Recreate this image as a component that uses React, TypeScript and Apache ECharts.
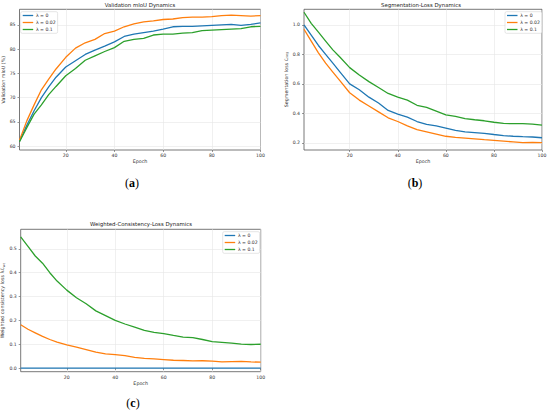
import React, { useEffect, useRef } from "react";
import * as echarts from "echarts";

const EPOCHS = [1, 4, 7, 10, 13, 16, 20, 24, 28, 32, 36, 40, 44, 48, 52, 56, 60, 64, 68, 72, 76, 80, 84, 88, 92, 96, 100];
const SERIES_NAMES = ["λ = 0", "λ = 0.02", "λ = 0.1"];
const COLORS = ["#1f77b4", "#ff7f0e", "#2ca02c"];

// (a) Validation mIoU (%)
const MIOU_L0 = [61.0, 64.3, 67.3, 70.0, 72.2, 74.2, 76.3, 77.6, 78.9, 79.8, 80.6, 81.5, 82.6, 83.1, 83.4, 83.7, 84.1, 84.6, 84.7, 84.7, 84.8, 84.9, 85.0, 85.1, 84.9, 85.1, 85.4];
const MIOU_L002 = [61.2, 65.2, 68.5, 71.6, 73.8, 75.9, 78.3, 80.2, 81.3, 82.0, 83.2, 83.7, 84.6, 85.2, 85.6, 85.8, 86.1, 86.2, 86.5, 86.6, 86.6, 86.7, 86.9, 87.0, 86.9, 86.8, 86.9];
const MIOU_L01 = [60.9, 63.8, 66.6, 68.5, 70.6, 72.3, 74.5, 76.0, 77.7, 78.6, 79.5, 80.3, 81.6, 82.0, 82.2, 82.9, 83.1, 83.1, 83.3, 83.4, 83.8, 83.9, 84.0, 84.1, 84.2, 84.6, 84.7];

// (b) Segmentation loss
const SEG_L0 = [1.0, 0.93, 0.86, 0.8, 0.74, 0.68, 0.6, 0.56, 0.51, 0.47, 0.42, 0.395, 0.375, 0.345, 0.325, 0.315, 0.3, 0.285, 0.275, 0.27, 0.265, 0.257, 0.25, 0.245, 0.242, 0.24, 0.235];
const SEG_L002 = [0.97, 0.89, 0.81, 0.74, 0.68, 0.62, 0.54, 0.49, 0.45, 0.41, 0.37, 0.345, 0.315, 0.29, 0.275, 0.26, 0.245, 0.238, 0.233, 0.228, 0.222, 0.217, 0.212, 0.207, 0.202, 0.203, 0.202];
const SEG_L01 = [1.085, 1.01, 0.95, 0.89, 0.83, 0.78, 0.71, 0.66, 0.615, 0.575, 0.535, 0.51, 0.49, 0.455, 0.44, 0.415, 0.39, 0.38, 0.365, 0.357, 0.35, 0.34, 0.332, 0.33, 0.33, 0.327, 0.32];

// (c) Weighted consistency loss
const WC_L0 = [0, 0, 0, 0, 0, 0, 0, 0, 0, 0, 0, 0, 0, 0, 0, 0, 0, 0, 0, 0, 0, 0, 0, 0, 0, 0, 0];
const WC_L002 = [0.182, 0.163, 0.148, 0.133, 0.12, 0.109, 0.097, 0.088, 0.078, 0.067, 0.06, 0.057, 0.052, 0.045, 0.041, 0.039, 0.036, 0.033, 0.032, 0.03, 0.031, 0.029, 0.026, 0.027, 0.028, 0.026, 0.025];
const WC_L01 = [0.55, 0.51, 0.47, 0.44, 0.4, 0.365, 0.327, 0.295, 0.27, 0.24, 0.22, 0.2, 0.185, 0.172, 0.158, 0.15, 0.145, 0.137, 0.13, 0.128, 0.12, 0.111, 0.108, 0.105, 0.101, 0.099, 0.1];

const X_TICKS = [20, 40, 60, 80, 100];
const MIOU_TICKS = [60, 65, 70, 75, 80, 85];
const SEG_TICKS = [0.2, 0.4, 0.6, 0.8, 1.0];
const WC_TICKS = [0, 0.1, 0.2, 0.3, 0.4, 0.5];

const TITLES = ["Validation mIoU Dynamics", "Segmentation-Loss Dynamics", "Weighted-Consistency-Loss Dynamics"];
const SUB_LETTERS = ["a", "b", "c"];

const FONT = "DejaVu Sans";
const SERIF = "Liberation Serif";
const TICK_FS = 4.6;

function pairs(vals: number[]) {
  return EPOCHS.map((e, i) => [e, vals[i]]);
}

function xAxis(gridIndex: number, nameGap: number) {
  return {
    type: "value",
    gridIndex,
    min: 1,
    max: 100,
    name: "Epoch",
    nameLocation: "middle",
    nameGap,
    nameTextStyle: { fontFamily: FONT, fontSize: 4.8, color: "#333" },
    axisLine: { show: false },
    axisTick: { show: true, length: 2, lineStyle: { color: "#555", width: 0.6 }, customValues: X_TICKS },
    axisLabel: { customValues: X_TICKS, fontFamily: FONT, fontSize: TICK_FS, color: "#333", margin: 3 },
    splitLine: { show: true, lineStyle: { color: "#e6e6e6", width: 0.6 } },
  };
}

function yAxis(gridIndex: number, min: number, max: number, ticks: number[], dec: number, name: string, rich: any) {
  return {
    type: "value",
    gridIndex,
    min,
    max,
    name,
    nameLocation: "middle",
    nameRotate: 90,
    nameGap: 11.5,
    nameTextStyle: { fontFamily: FONT, fontSize: 4.8, color: "#333", rich },
    axisLine: { show: false },
    axisTick: { show: true, length: 2, lineStyle: { color: "#555", width: 0.6 }, customValues: ticks },
    axisLabel: {
      customValues: ticks,
      fontFamily: FONT,
      fontSize: TICK_FS,
      color: "#333",
      margin: 4,
      formatter: (v: number) => v.toFixed(dec),
    },
    splitLine: { show: true, lineStyle: { color: "#e6e6e6", width: 0.6 } },
  };
}

function legend(pos: any) {
  return {
    ...pos,
    orient: "vertical",
    data: SERIES_NAMES,
    icon: "rect",
    itemWidth: 10.5,
    itemHeight: 1.3,
    itemGap: 1,
    padding: [0.8, 2, 0.8, 2],
    backgroundColor: "rgba(255,255,255,0.85)",
    borderColor: "#cccccc",
    borderWidth: 0.5,
    borderRadius: 1.5,
    textStyle: { fontFamily: FONT, fontSize: 4.6, lineHeight: 6, color: "#333", padding: [0, 0, 0, -2.3] },
    selectedMode: false,
  };
}

function line(name: string, color: string, idx: number, vals: number[]) {
  return {
    type: "line",
    name,
    xAxisIndex: idx,
    yAxisIndex: idx,
    data: pairs(vals),
    showSymbol: false,
    symbol: "none",
    lineStyle: { color, width: 1.3 },
    itemStyle: { color },
  };
}

const subRich = {
  t: { fontFamily: FONT, fontSize: 4.8, color: "#333" },
  s: { fontFamily: FONT, fontSize: 3.3, color: "#333", verticalAlign: "bottom", padding: [2, 0, 0, 0] },
};

function subLabel(idx: number, cx: number, top: number) {
  return {
    text: "{p|(}{b|" + SUB_LETTERS[idx] + "}{p|)}",
    left: cx,
    top,
    textAlign: "center",
    padding: 0,
    textStyle: {
      fontFamily: SERIF,
      fontWeight: "normal",
      fontSize: 12,
      rich: {
        p: { fontFamily: SERIF, fontSize: 12, fontWeight: "normal", color: "#000", lineHeight: 13 },
        b: { fontFamily: SERIF, fontSize: 12, fontWeight: "bold", color: "#000", lineHeight: 13 },
      },
    },
  };
}

export default function App() {
  const ref = useRef<HTMLDivElement>(null);
  useEffect(() => {
    if (!ref.current) return;
    const chart = echarts.init(ref.current, undefined, { renderer: "svg" });
    const titleStyle = { fontFamily: FONT, fontSize: 5.4, fontWeight: "normal", color: "#222" };
    const option: any = {
      animation: false,
      backgroundColor: "#ffffff",
      title: [
        { text: TITLES[0], left: 140, top: 2, textAlign: "center", padding: 0, textStyle: titleStyle },
        { text: TITLES[1], left: 421, top: 2, textAlign: "center", padding: 0, textStyle: titleStyle },
        { text: TITLES[2], left: 141, top: 221.5, textAlign: "center", padding: 0, textStyle: titleStyle },
        subLabel(0, 132, 176.5),
        subLabel(1, 415, 176.8),
        subLabel(2, 133, 396.8),
      ],
      legend: [
        legend({ left: 20.7, top: 11.7 }),
        legend({ left: 505, top: 11.7 }),
        legend({ left: 222.7, top: 231.7 }),
      ],
      grid: [
        { left: 19.5, top: 9.3, width: 241, height: 140.7, show: true, borderColor: "#555", borderWidth: 0.8, backgroundColor: "transparent", outerBoundsMode: "none" },
        { left: 304, top: 9.3, width: 238, height: 140.7, show: true, borderColor: "#555", borderWidth: 0.8, backgroundColor: "transparent", outerBoundsMode: "none" },
        { left: 20.7, top: 229.3, width: 240, height: 142.4, show: true, borderColor: "#555", borderWidth: 0.8, backgroundColor: "transparent", outerBoundsMode: "none" },
      ],
      xAxis: [xAxis(0, 9), xAxis(1, 8.7), xAxis(2, 7)],
      yAxis: [
        yAxis(0, 59.2, 88.2, MIOU_TICKS, 0, "Validation mIoU (%)", undefined),
        yAxis(1, 0.152, 1.105, SEG_TICKS, 1, "{t|Segmentation loss ℒ}{s|seg}", subRich),
        yAxis(2, -0.015, 0.582, WC_TICKS, 1, "{t|Weighted consistency loss λℒ}{s|wc}", subRich),
      ],
      series: [
        line(SERIES_NAMES[0], COLORS[0], 0, MIOU_L0),
        line(SERIES_NAMES[1], COLORS[1], 0, MIOU_L002),
        line(SERIES_NAMES[2], COLORS[2], 0, MIOU_L01),
        line(SERIES_NAMES[0], COLORS[0], 1, SEG_L0),
        line(SERIES_NAMES[1], COLORS[1], 1, SEG_L002),
        line(SERIES_NAMES[2], COLORS[2], 1, SEG_L01),
        line(SERIES_NAMES[0], COLORS[0], 2, WC_L0),
        line(SERIES_NAMES[1], COLORS[1], 2, WC_L002),
        line(SERIES_NAMES[2], COLORS[2], 2, WC_L01),
      ],
    };
    chart.setOption(option);
    return () => chart.dispose();
  }, []);
  return <div ref={ref} style={{ position: "absolute", left: 0, top: 0, width: 550, height: 414 }} />;
}
